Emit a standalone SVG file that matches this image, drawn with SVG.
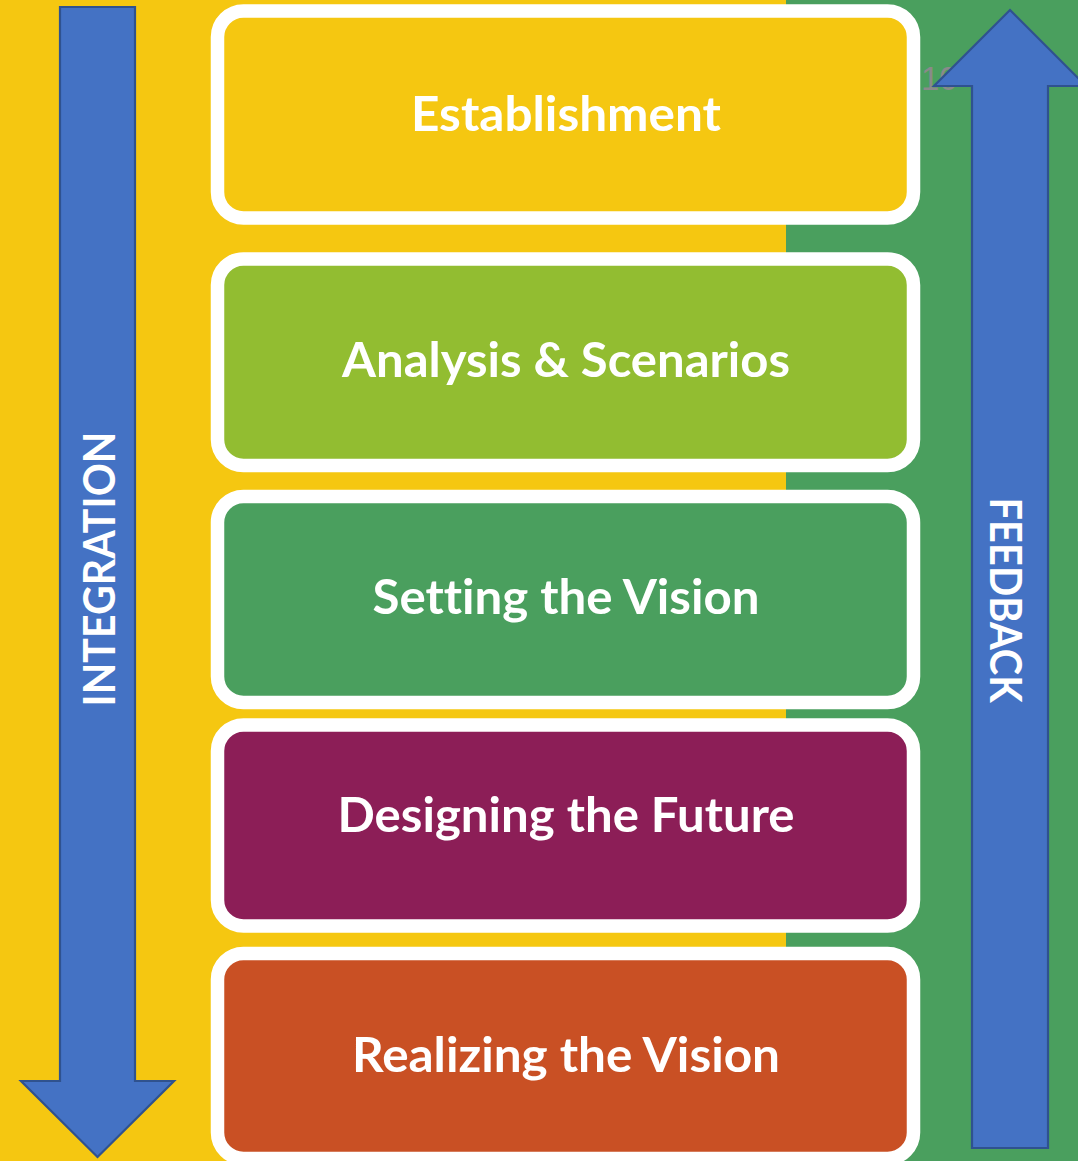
<svg xmlns="http://www.w3.org/2000/svg" width="1078" height="1161" viewBox="0 0 1078 1161">
<style>
.box{stroke:#FFFFFF;stroke-width:13.5}
.lbl{font-family:"Lato","Open Sans","Liberation Sans",sans-serif;font-weight:bold;fill:#FFFFFF;text-anchor:middle;font-variant-ligatures:none}
.main{font-size:48px}
.side{font-size:43px}
.arrow{fill:#4472C4;stroke:#2F528F;stroke-width:2.2;stroke-linejoin:miter}
</style>
<rect x="0" y="0" width="1078" height="1161" fill="#F5C711"/>
<rect x="786" y="0" width="292" height="1161" fill="#4A9F5E"/>
<text x="921" y="90" font-family="Liberation Sans, sans-serif" font-size="33" fill="#8A8A8A">10</text>
<g id="connectors">
<g id="integration-arrow">
<polygon class="arrow" points="60,7 135,7 135,1081 174,1081 97.5,1157 21,1081 60,1081"/>
<text class="lbl side" transform="translate(115,569) rotate(-90)" textLength="275" lengthAdjust="spacingAndGlyphs">INTEGRATION</text>
</g>
<g id="feedback-arrow">
<polygon class="arrow" points="1010,10 1086,86 1048,86 1048,1148 972,1148 972,86 934,86"/>
<text class="lbl side" transform="translate(990,600) rotate(90)" textLength="205" lengthAdjust="spacingAndGlyphs">FEEDBACK</text>
</g>
</g>
<g id="establishment">
<rect class="box" x="217.5" y="11" width="696" height="207" rx="26" fill="#F5C711"/>
<text class="lbl main" x="566" y="131" textLength="310" lengthAdjust="spacingAndGlyphs">Establishment</text>
</g>
<g id="analysis">
<rect class="box" x="217.5" y="259" width="696" height="206.5" rx="26" fill="#92BD31"/>
<text class="lbl main" x="566" y="377" textLength="448" lengthAdjust="spacingAndGlyphs">Analysis &amp; Scenarios</text>
</g>
<g id="setting-vision">
<rect class="box" x="217.5" y="496.5" width="696" height="206" rx="26" fill="#4A9F5E"/>
<text class="lbl main" x="566" y="614" textLength="387" lengthAdjust="spacingAndGlyphs">Setting the Vision</text>
</g>
<g id="designing-future">
<rect class="box" x="217.5" y="725" width="696" height="201" rx="26" fill="#8C1E57"/>
<text class="lbl main" x="566" y="832" textLength="457" lengthAdjust="spacingAndGlyphs">Designing the Future</text>
</g>
<g id="realizing-vision">
<rect class="box" x="217.5" y="953.5" width="696" height="205" rx="26" fill="#C95024"/>
<text class="lbl main" x="566" y="1072" textLength="428" lengthAdjust="spacingAndGlyphs">Realizing the Vision</text>
</g>
</svg>
